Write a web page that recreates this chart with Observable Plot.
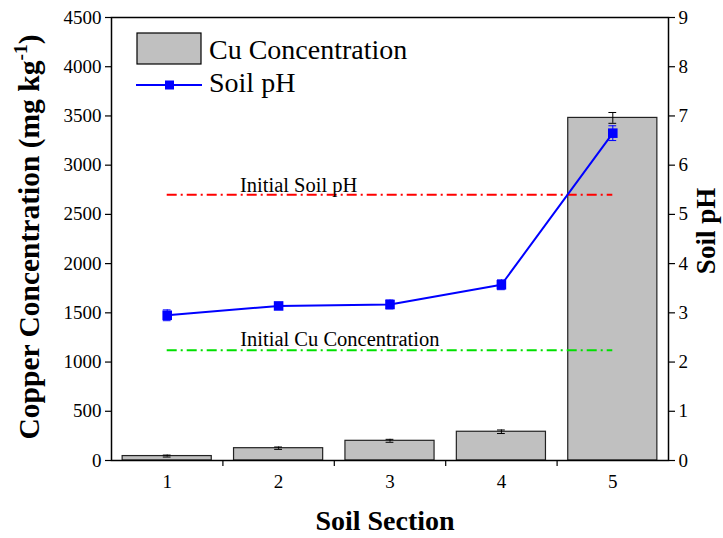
<!DOCTYPE html>
<html><head><meta charset="utf-8">
<script src="https://cdn.jsdelivr.net/npm/d3@7"></script>
<script src="https://cdn.jsdelivr.net/npm/@observablehq/plot@0.6"></script>
<style>
body{margin:0;background:#fff;}
#wrap{position:relative;width:723px;height:538px;}
</style></head><body><div id="wrap"></div>
<script>
// ---- data ----
const sections = [1, 2, 3, 4, 5];
const cuConc = [45, 125, 200, 292, 3480];
const cuErr = [10, 12, 15, 18, 55];
const soilPH = [2.95, 3.14, 3.17, 3.57, 6.65];
const phErr = [0.11, 0.07, 0.09, 0.1, 0.15];
const initialPH = 5.4;
const initialCu = 1120;
const cuTicks = [0, 500, 1000, 1500, 2000, 2500, 3000, 3500, 4000, 4500];
const phTicks = [0, 1, 2, 3, 4, 5, 6, 7, 8, 9];
const xLabel = "Soil Section";
const yLeftLabel = "Copper Concentration (mg kg";
const yRightLabel = "Soil pH";
const legendLabels = ["Cu Concentration", "Soil pH"];
const annotations = ["Initial Soil pH", "Initial Cu Concentration"];

// ---- derived ----
const phFactor = cuTicks[cuTicks.length - 1] / phTicks[phTicks.length - 1];
const rows = sections.map((s, i) => ({s, cu: cuConc[i], cuE: cuErr[i], ph: soilPH[i], phE: phErr[i]}));
const bounds = sections.slice(1).map(s => s - 0.5);
const font = "Liberation Serif";
const barHalf = 0.4, capHalf = 0.035;

const caps = (key, err, f) => rows.flatMap(d => [
  {s: d.s, y: f(d[key] - d[err])}, {s: d.s, y: f(d[key] + d[err])}
]);
const axText = {fontFamily: font, fontSize: 19, label: null, fill: "#000"};

const chart = Plot.plot({
  width: 723, height: 538,
  marginLeft: 111, marginRight: 55, marginTop: 17, marginBottom: 78,
  style: {fontFamily: font, fontSize: "19px", color: "#000", background: "#fff"},
  x: {type: "linear", domain: [sections[0] - 0.5, sections[sections.length - 1] + 0.5]},
  y: {domain: [cuTicks[0], cuTicks[cuTicks.length - 1]]},
  marks: [
    Plot.rectY(rows, {x1: d => d.s - barHalf, x2: d => d.s + barHalf, y: "cu", fill: "#c0c0c0", stroke: "#222", strokeWidth: 1.2}),
    Plot.ruleX(rows, {x: "s", y1: d => d.cu - d.cuE, y2: d => d.cu + d.cuE, stroke: "#000", strokeWidth: 1}),
    Plot.ruleY(caps("cu", "cuE", v => v), {y: "y", x1: d => d.s - capHalf, x2: d => d.s + capHalf, stroke: "#000", strokeWidth: 1}),
    Plot.ruleY([initialPH * phFactor], {x1: sections[0], x2: sections[sections.length - 1], stroke: "#ff0000", strokeWidth: 2, strokeDasharray: "10,4,2,4"}),
    Plot.ruleY([initialCu], {x1: sections[0], x2: sections[sections.length - 1], stroke: "#00e000", strokeWidth: 2, strokeDasharray: "10,4,2,4"}),
    Plot.text([annotations[0]], {x: sections[1] + 0.18, y: initialPH * phFactor, dy: -9, text: d => d, fontSize: 20.5, fontFamily: font, fill: "#000"}),
    Plot.text([annotations[1]], {x: sections[2] - 0.45, y: initialCu, dy: -11, text: d => d, fontSize: 20.5, fontFamily: font, fill: "#000"}),
    Plot.line(rows, {x: "s", y: d => d.ph * phFactor, stroke: "#0000ff", strokeWidth: 2}),
    Plot.ruleX(rows, {x: "s", y1: d => (d.ph - d.phE) * phFactor, y2: d => (d.ph + d.phE) * phFactor, stroke: "#0000ff", strokeWidth: 1}),
    Plot.ruleY(caps("ph", "phE", v => v * phFactor), {y: "y", x1: d => d.s - capHalf, x2: d => d.s + capHalf, stroke: "#0000ff", strokeWidth: 1}),
    Plot.dot(rows, {x: "s", y: d => d.ph * phFactor, symbol: "square", r: 5.4, fill: "#0000ff", stroke: "none"}),
    Plot.frame({stroke: "#000", strokeWidth: 1.5}),
    Plot.axisY(cuTicks, {...axText, anchor: "left", tickSize: 6, tickPadding: 4, tickFormat: d => String(d), strokeWidth: 1.2}),
    Plot.axisY(cuTicks, {...axText, anchor: "right", tickSize: 6, tickPadding: 4, tickFormat: d => String(d / phFactor), strokeWidth: 1.2}),
    Plot.axisX(sections, {...axText, anchor: "bottom", tickSize: 0, tickPadding: 14, tickFormat: d => String(d)}),
    Plot.axisX(bounds, {anchor: "bottom", tickSize: 6, tickFormat: () => "", label: null, strokeWidth: 1.2})
  ]
});
document.getElementById("wrap").appendChild(chart);

// ---- titles & legend ----
const svg = d3.select(chart);
const addText = (x, y, txt, size, bold, rot, anchor) => {
  const t = svg.append("text")
    .attr("transform", `translate(${x},${y})` + (rot ? " rotate(-90)" : ""))
    .attr("text-anchor", anchor)
    .style("font-family", font).style("font-size", size + "px")
    .style("font-weight", bold ? "bold" : "normal").attr("fill", "#000");
  if (txt) t.text(txt);
  return t;
};
const t1 = addText(39, 237, null, 29.5, true, true, "middle");
t1.append("tspan").text(yLeftLabel);
t1.append("tspan").style("font-size", "19.5px").attr("dy", -12).text("-1");
t1.append("tspan").attr("dy", 12).text(")");
addText(715, 231, yRightLabel, 27, true, true, "middle");
addText(385, 530, xLabel, 28, true, false, "middle");

svg.append("rect").attr("x", 137).attr("y", 33).attr("width", 64).attr("height", 31).attr("fill", "#c0c0c0").attr("stroke", "#000").attr("stroke-width", 1.2);
addText(209, 58.5, legendLabels[0], 28, false, false, "start");
svg.append("line").attr("x1", 136).attr("x2", 202).attr("y1", 85).attr("y2", 85).attr("stroke", "#0000ff").attr("stroke-width", 2);
svg.append("rect").attr("x", 165).attr("y", 80.5).attr("width", 9).attr("height", 9).attr("fill", "#0000ff");
addText(209, 92, legendLabels[1], 28, false, false, "start");
</script>
</body></html>
